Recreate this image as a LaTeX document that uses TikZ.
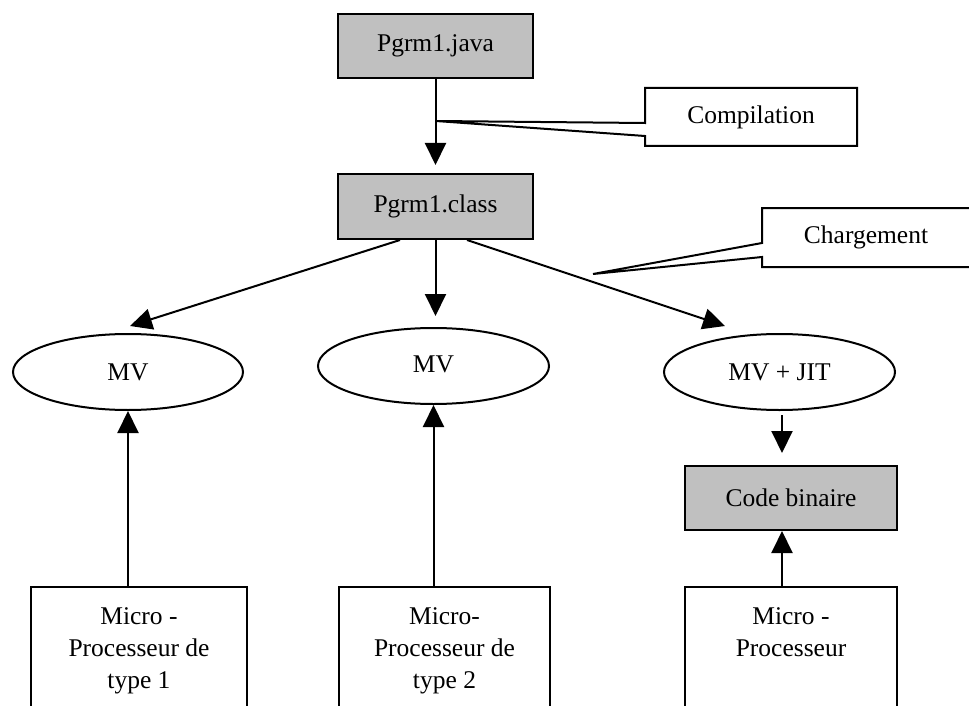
\documentclass[tikz,border=0pt]{standalone}
\usepackage{fontspec}
\setmainfont{Liberation Serif}
\usetikzlibrary{arrows.meta,shapes.geometric,calc}
\definecolor{boxgrey}{HTML}{C0C0C0}
\tikzset{
  every node/.style={font=\fontsize{25.5}{32}\selectfont},
  line/.style={line width=2pt},
  arr/.style={line, -{Triangle[width=21pt,length=22pt]}},
  greybox/.style={line, draw, fill=boxgrey, rectangle, inner sep=0pt},
  vm/.style={line, draw, ellipse, inner sep=0pt, minimum width=230pt, minimum height=76pt},
  procbox/.style={line, draw, rectangle, anchor=north, align=center, inner sep=0pt,
    minimum height=128pt},
  calloutbox/.style={line, draw, fill=white, line join=miter}
}
\begin{document}
\begin{tikzpicture}[x=1pt,y=-1pt]
\clip (0,0) rectangle (969,706);
\fill[white] (0,0) rectangle (969,706);

% source and bytecode files
\node[greybox, minimum width=195pt, minimum height=64pt] (java) at (435.5,46) {Pgrm1.java};
\node[greybox, minimum width=195pt, minimum height=65pt] (class) at (435.5,206.5) {Pgrm1.class};

% virtual machines
\node[vm] (mv1) at (128,372) {MV};
\node[vm, minimum width=231pt] (mv2) at (433.5,366) {\raisebox{3pt}{MV}};
\node[vm, minimum width=231pt] (mvjit) at (779.5,372) {MV + JIT};

% native code
\node[greybox, minimum width=212pt, minimum height=64pt] (code) at (791,498) {Code binaire};

% processors
\node[procbox, minimum width=216pt] (p1) at (139,586) {Micro -\\Processeur de\\type 1};
\node[procbox, minimum width=211pt] (p2) at (444.5,586) {Micro-\\Processeur de\\type 2};
\node[procbox, minimum width=212pt] (p3) at (791,586) {Micro -\\Processeur\\\phantom{type 1}};

% compilation and loading
\draw[arr] (java.south) -- ($(class.north)+(0,-8)$);
\draw[arr] ($(class.south)+(-35.5,0)$) -- ($(mv1.north)+(2,-7)$);
\draw[arr] (class.south) -- ($(class.south |- mv2.north)+(0,-11)$);
\draw[arr] ($(class.south)+(31.5,0)$) -- ($(mvjit.north)+(-54.5,-7)$);
\draw[arr] ($(mvjit.south)+(2.5,4)$) -- ($(code.north)+(-9,-12)$);

% processors feed the machines
\draw[arr] (p1.north -| mv1.south) -- (mv1.south);
\draw[arr] (p2.north -| mv2.south) -- (mv2.south);
\draw[arr] (p3.north -| code.south) ++(-9,0) coordinate (p3top) -- (p3top |- code.south);

% callouts
\coordinate (ctip) at (436,121);
\draw[calloutbox] (645,88) -- (857,88) -- (857,146) -- (645,146) -- (645,136) -- (ctip) -- (645,123) -- cycle;
\node (comp) at (751,117) {Compilation};

\coordinate (ltip) at (593,274);
\draw[calloutbox] (762,208) -- (975,208) -- (975,267) -- (762,267) -- (762,257) -- (ltip) -- (762,243) -- cycle;
\node (charg) at (866,237) {Chargement};
\end{tikzpicture}
\end{document}
